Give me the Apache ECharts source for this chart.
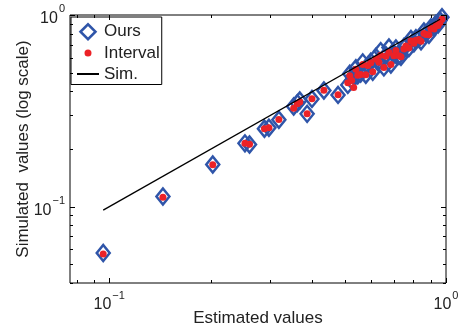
<!DOCTYPE html>
<html><head><meta charset="utf-8">
<script src="https://cdn.jsdelivr.net/npm/echarts@6/dist/echarts.min.js"></script>
<style>html,body{margin:0;padding:0;background:#fff}#c{width:465px;height:335px}</style>
</head><body><div id="c"></div>
<script>
// ---- data ----
const estimated = [0.096, 0.1444, 0.203, 0.253, 0.261, 0.289, 0.298, 0.319, 0.353, 0.362, 0.368, 0.387, 0.400, 0.434, 0.478,
  0.511, 0.518, 0.525, 0.532, 0.540, 0.547, 0.558, 0.566, 0.578, 0.586, 0.598, 0.606, 0.619, 0.632, 0.640, 0.654, 0.663, 0.677, 0.686, 0.700,
  0.710, 0.725, 0.735, 0.750, 0.760, 0.776, 0.787, 0.803, 0.814, 0.831, 0.843, 0.860, 0.872, 0.890, 0.902, 0.921, 0.934, 0.947, 0.960, 0.973];
const ours = [0.0573, 0.113, 0.166, 0.214, 0.211, 0.255, 0.258, 0.284, 0.333, 0.347, 0.358, 0.305, 0.365, 0.404, 0.383,
  0.432, 0.494, 0.455, 0.483, 0.527, 0.485, 0.495, 0.566, 0.488, 0.545, 0.570, 0.506, 0.604, 0.574, 0.648, 0.533, 0.617, 0.677, 0.552, 0.621,
  0.669, 0.613, 0.606, 0.681, 0.690, 0.672, 0.750, 0.712, 0.757, 0.755, 0.730, 0.820, 0.801, 0.789, 0.860, 0.857, 0.900, 0.892, 0.937, 0.973];
const interval = [0.0566, 0.112, 0.1655, 0.214, 0.212, 0.255, 0.258, 0.285, 0.3265, 0.344, 0.352, 0.305, 0.366, 0.405, 0.384,
  0.443, 0.482, 0.455, 0.418, 0.521, 0.485, 0.489, 0.552, 0.488, 0.545, 0.563, 0.506, 0.590, 0.567, 0.617, 0.533, 0.609, 0.638, 0.552, 0.613,
  0.652, 0.613, 0.606, 0.665, 0.690, 0.672, 0.732, 0.712, 0.739, 0.745, 0.730, 0.800, 0.792, 0.789, 0.850, 0.846, 0.880, 0.881, 0.915, 0.950];
const simX = [0.096, 0.96];
const simY = [0.096, 0.95];
const seriesNames = ['Ours', 'Interval', 'Sim.'];
const xTickValues = [0.08, 0.09, 0.1, 0.2, 0.3, 0.4, 0.5, 0.6, 0.7, 0.8, 0.9, 1];
const yTickValues = [0.04, 0.05, 0.06, 0.07, 0.08, 0.09, 0.1, 0.2, 0.3, 0.4, 0.5, 0.6, 0.7, 0.8, 0.9, 1];
const decadeValues = [0.1, 1];
const decadeExponents = ['\u22121', '0'];
const xRange = [0.0765, 1];
const yRange = [0.04, 1];
const xTitle = 'Estimated values';
const yTitle = 'Simulated  values (log scale)';

// ---- style ----
const FONT = '"Liberation Sans", Arial, Helvetica, sans-serif';
const BLUE = '#2f55a9';
const RED = '#ec2227';
const TXT = '#222';

function decadeIndex(v) {
  for (let i = 0; i < decadeValues.length; i++) {
    if (Math.abs(Math.log10(v) - Math.log10(decadeValues[i])) < 1e-6) return i;
  }
  return -1;
}
function fmt(v) {
  const i = decadeIndex(v);
  if (i < 0) return '';
  return '{b|10}{s|' + decadeExponents[i] + '}';
}
const richLab = {
  b: {fontSize: 16, fontFamily: FONT, color: TXT, verticalAlign: 'bottom'},
  s: {fontSize: 11, fontFamily: FONT, color: TXT, verticalAlign: 'bottom', padding: [0, 0, 12, 1]}
};

const tickData = xTickValues.map(v => [v, yRange[0], 0]).concat(yTickValues.map(v => [xRange[0], v, 1]));

const chart = echarts.init(document.getElementById('c'), null, {renderer: 'canvas'});
chart.setOption({
  animation: false,
  backgroundColor: '#fff',
  grid: {left: 70, right: 19, top: 15, bottom: 52, show: true, borderColor: '#000', borderWidth: 1,
    backgroundColor: 'transparent', outerBoundsMode: 'none', containLabel: false},
  legend: {
    orient: 'vertical', left: 71, top: 17,
    padding: [6, 2, 2, 5], itemGap: 1, itemWidth: 22, itemHeight: 15,
    symbolKeepAspect: true,
    borderColor: '#000', borderWidth: 1, borderRadius: 0, backgroundColor: '#fff',
    textStyle: {fontSize: 17, color: TXT, fontFamily: FONT},
    data: [
      {name: seriesNames[0], icon: 'path://M0,1L1,0L2,1L1,2Z', itemStyle: {color: 'rgba(0,0,0,0)', borderColor: BLUE, borderWidth: 2.5}},
      {name: seriesNames[1], icon: 'circle', itemStyle: {color: RED, borderColor: '#fff', borderWidth: 8}},
      {name: seriesNames[2], itemStyle: {color: 'rgba(0,0,0,0)', borderColor: 'rgba(0,0,0,0)', borderWidth: 0, opacity: 0}}
    ]
  },
  xAxis: {
    type: 'log', logBase: 10, min: xRange[0], max: xRange[1],
    axisLine: {show: false}, axisTick: {show: false}, splitLine: {show: false}, minorTick: {show: false},
    axisLabel: {formatter: fmt, rich: richLab, margin: 7, showMinLabel: true, showMaxLabel: true, hideOverlap: false},
    name: xTitle, nameLocation: 'middle', nameGap: 27, nameMoveOverlap: false,
    nameTextStyle: {fontSize: 17, color: TXT, fontFamily: FONT}
  },
  yAxis: {
    type: 'log', logBase: 10, min: yRange[0], max: yRange[1],
    axisLine: {show: false}, axisTick: {show: false}, splitLine: {show: false}, minorTick: {show: false},
    axisLabel: {formatter: fmt, rich: richLab, margin: 5, showMinLabel: true, showMaxLabel: true, hideOverlap: false},
    name: yTitle, nameLocation: 'middle', nameGap: 38, nameMoveOverlap: false,
    nameTextStyle: {fontSize: 17, color: TXT, fontFamily: FONT}
  },
  series: [
    {
      type: 'scatter', name: seriesNames[0], z: 2,
      data: estimated.map((x, i) => [x, ours[i]]),
      symbol: 'diamond', symbolSize: [13, 16],
      itemStyle: {color: 'rgba(0,0,0,0)', borderColor: BLUE, borderWidth: 2.5, opacity: 1}
    },
    {
      type: 'scatter', name: seriesNames[1], z: 3,
      data: estimated.map((x, i) => [x, interval[i]]),
      symbol: 'circle', symbolSize: 7,
      itemStyle: {color: RED, opacity: 1}
    },
    {
      type: 'line', name: seriesNames[2], z: 4,
      data: simX.map((x, i) => [x, simY[i]]),
      symbol: 'none', showSymbol: false,
      lineStyle: {color: '#000', width: 1.3},
      itemStyle: {color: '#000'}
    },
    {
      type: 'custom', z: 5, silent: true, clip: false,
      data: tickData,
      renderItem: function (params, api) {
        const cs = params.coordSys;
        const kind = api.value(2);
        const style = {stroke: '#000', lineWidth: 1};
        if (kind === 0) {
          const v = api.value(0);
          const len = decadeIndex(v) >= 0 ? 5 : 3;
          const x = Math.round(api.coord([v, yRange[0]])[0]) + 0.5;
          const yb = cs.y + cs.height;
          return {type: 'group', children: [
            {type: 'line', shape: {x1: x, y1: yb, x2: x, y2: yb - len}, style: style},
            {type: 'line', shape: {x1: x, y1: cs.y, x2: x, y2: cs.y + len}, style: style}
          ]};
        } else {
          const v = api.value(1);
          const len = decadeIndex(v) >= 0 ? 5 : 3;
          const y = Math.round(api.coord([xRange[0], v])[1]) + 0.5;
          const xr = cs.x + cs.width;
          return {type: 'group', children: [
            {type: 'line', shape: {x1: cs.x, y1: y, x2: cs.x + len, y2: y}, style: style},
            {type: 'line', shape: {x1: xr, y1: y, x2: xr - len, y2: y}, style: style}
          ]};
        }
      }
    }
  ]
});
</script>
</body></html>
